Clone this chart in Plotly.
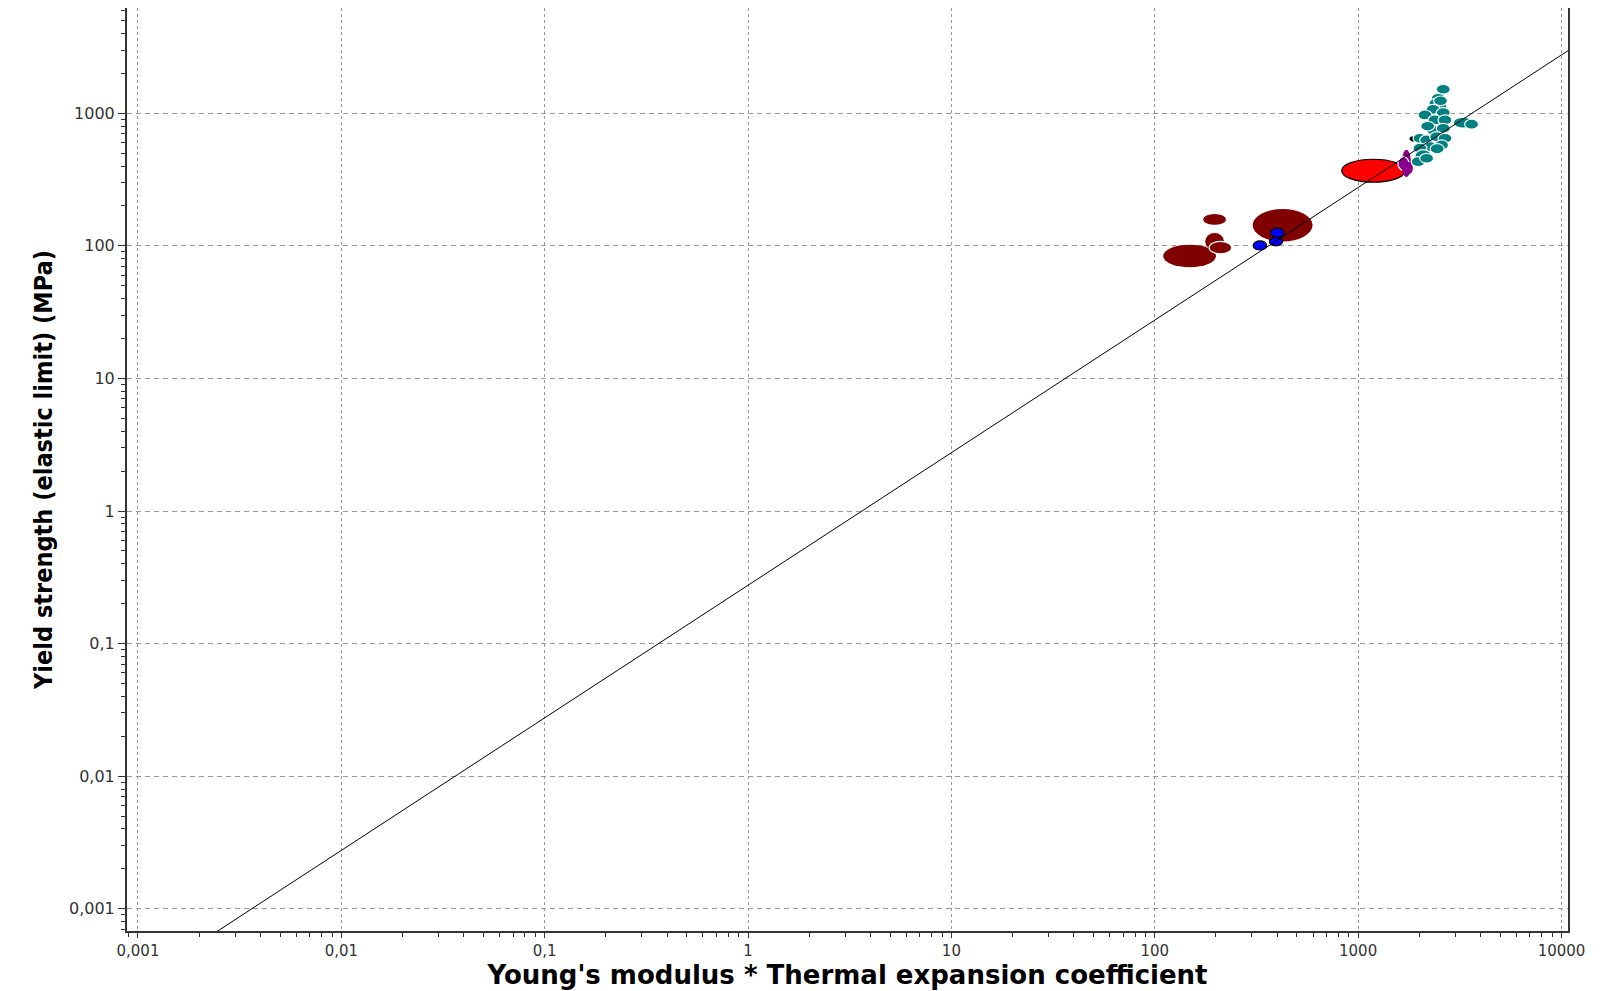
import plotly.graph_objects as go

# ---------------- data ----------------
x_tick_vals = [0.001, 0.01, 0.1, 1, 10, 100, 1000, 10000]
x_tick_text = ["0,001", "0,01", "0,1", "1", "10", "100", "1000", "10000"]
y_tick_vals = [0.001, 0.01, 0.1, 1, 10, 100, 1000]
y_tick_text = ["0,001", "0,01", "0,1", "1", "10", "100", "1000"]

# guide line  y = 0.2754 * x
line_x = [0.001, 20000]
line_y = [0.0002754, 5508]

# material ranges: [low, high] on each axis
maroon_x = [[110, 200], [173, 224], [177, 219], [185, 239], [303, 597]]
maroon_y = [[69, 102], [144, 174], [93, 125], [87, 108], [108, 190]]

blue_x = [[305, 355], [366, 425], [371, 432]]
blue_y = [[93, 109], [100, 116], [116, 136]]

red_x = [[830, 1700]]
red_y = [[302, 450]]

purple_x = [[1640, 1820], [1570, 1780], [1640, 1860]]
purple_y = [[330, 530], [370, 470], [345, 430]]

black_x = [[1790, 2000]]
black_y = [[612, 675]]

teal_x = [[2423, 2837], [2289, 2680], [2231, 2612], [2334, 2732], [2163, 2532],
          [1969, 2305], [2423, 2837], [2205, 2582], [2470, 2892], [2936, 3683],
          [3340, 3910], [2163, 2532], [2423, 2837], [1861, 2179], [2007, 2350],
          [2248, 2631], [2470, 2892], [2378, 2784], [2083, 2439], [1861, 2179],
          [1900, 2299], [1825, 2137], [2007, 2350], [2350, 2750], [2030, 2380],
          [2260, 2650]]
teal_y = [[1392, 1654], [1190, 1414], [1091, 1296], [1029, 1223], [983, 1168],
          [891, 1058], [928, 1102], [817, 971], [817, 971], [773, 935],
          [759, 901], [686, 815], [707, 840], [594, 706], [577, 686],
          [611, 726], [594, 706], [529, 629], [514, 610], [500, 594],
          [417, 532], [396, 471], [420, 499], [1140, 1350], [735, 870],
          [495, 590]]

# ---------------- styles ----------------
family_styles = [
    (maroon_x, maroon_y, "#800000", None),
    (blue_x, blue_y, "#0000ff", "#000000"),
    (red_x, red_y, "#ff0000", "#000000"),
    (purple_x, purple_y, "#8b008b", "#ffffff"),
    (black_x, black_y, "#000000", None),
    (teal_x, teal_y, "#008080", "#ffffff"),
]
white_edge_maroon = {3}

shapes = []
for xs, ys, fill, edge in family_styles:
    for i, (xr, yr) in enumerate(zip(xs, ys)):
        e = edge
        if fill == "#800000" and i in white_edge_maroon:
            e = "#ffffff"
        if fill == "#8b008b" and i != 1:
            e = None
        shapes.append(dict(
            type="circle", xref="x", yref="y", layer="between",
            x0=xr[0], x1=xr[1], y0=yr[0], y1=yr[1],
            fillcolor=fill,
            line=dict(color=e if e else fill, width=1.2 if e else 0),
        ))

fig = go.Figure()
fig.add_trace(go.Scatter(
    x=line_x, y=line_y, mode="lines",
    line=dict(color="#000000", width=1), showlegend=False, hoverinfo="skip",
))

minor_x = [m * 10 ** k for k in range(-4, 5) for m in range(2, 10)]
minor_y = [m * 10 ** k for k in range(-4, 4) for m in range(2, 10)]

fig.update_layout(
    width=1592, height=983,
    margin=dict(l=119, r=32, t=0, b=60),
    paper_bgcolor="white", plot_bgcolor="white",
    shapes=shapes,
    showlegend=False,
)
fig.update_xaxes(
    type="log", range=[-3.054, 4.032],
    tickmode="array", tickvals=x_tick_vals, ticktext=x_tick_text,
    tickfont=dict(family="DejaVu Sans", size=15, color="#333333"),
    ticks="outside", ticklen=5, tickcolor="#333333", tickwidth=1,
    showline=True, linecolor="#333333", linewidth=2, mirror=True,
    showgrid=True, gridcolor="#999999", gridwidth=1.3, griddash="3px,3px",
    zeroline=False, automargin=False,
    minor=dict(tickmode="array", tickvals=minor_x, ticks="outside",
               ticklen=4, tickcolor="#333333", showgrid=False),
    title=dict(text="Young's modulus * Thermal expansion coefficient",
               font=dict(family="DejaVu Sans", size=26, color="#000000",
                         weight="bold"),
               standoff=4),
)
fig.update_yaxes(
    type="log", range=[-3.168, 3.794],
    tickmode="array", tickvals=y_tick_vals, ticktext=y_tick_text,
    tickfont=dict(family="DejaVu Sans", size=16, color="#333333"),
    ticks="outside", ticklen=7, tickcolor="#333333", tickwidth=1,
    showline=True, linecolor="#333333", linewidth=2, mirror=True,
    showgrid=True, gridcolor="#999999", gridwidth=1.3, griddash="5px,4px",
    zeroline=False, automargin=False,
    minor=dict(tickmode="array", tickvals=minor_y, ticks="outside",
               ticklen=4, tickcolor="#333333", showgrid=False),
    title=dict(text="Yield strength (elastic limit) (MPa)",
               font=dict(family="DejaVu Sans Condensed, Liberation Sans Narrow, sans-serif",
                         size=25, color="#000000", weight="bold"),
               standoff=9),
)

fig.write_html("out.html")
